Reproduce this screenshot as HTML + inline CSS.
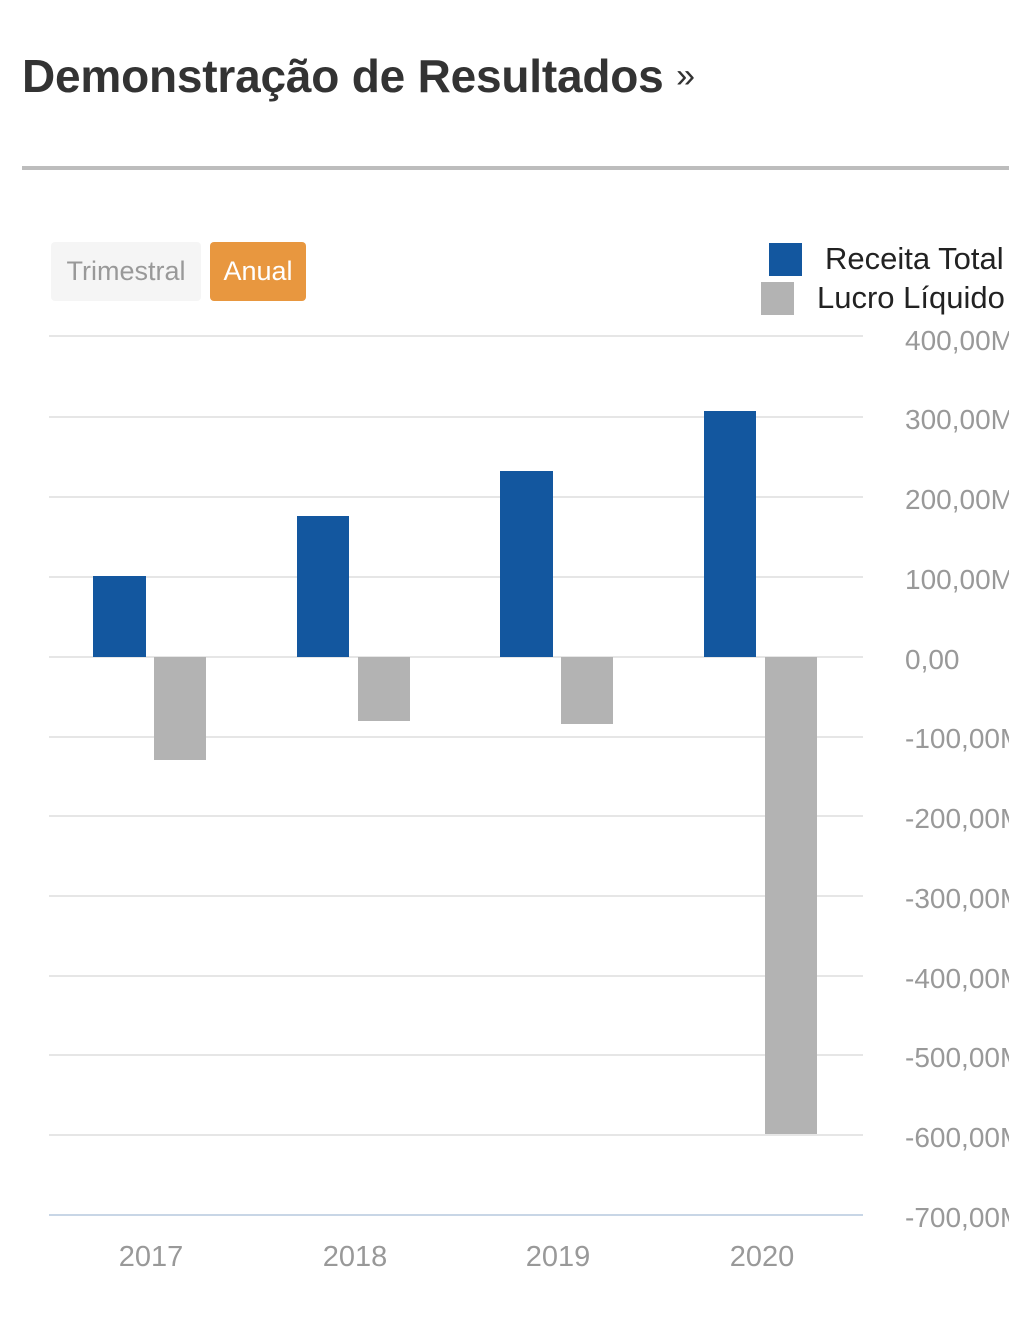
<!DOCTYPE html>
<html><head><meta charset="utf-8"><style>
body{margin:0;width:1009px;height:1329px;background:#fff;overflow:hidden;position:relative;font-family:"Liberation Sans",sans-serif}
.a{position:absolute}
.g{position:absolute;left:49px;width:814px;height:2px;background:#e6e6e6}
.yl{position:absolute;left:905px;font-size:28px;color:#999;white-space:nowrap;line-height:1}
.xl{position:absolute;width:120px;text-align:center;font-size:29px;color:#999;top:1243px;line-height:1}
</style></head><body>
<div class="a" style="left:22px;top:49px;font-size:46px;font-weight:bold;color:#333;white-space:nowrap;letter-spacing:-0.2px">Demonstração de Resultados <span style="font-weight:normal;font-size:34px;position:relative;top:-5px">»</span></div>
<div class="a" style="left:22px;top:166px;width:987px;height:4px;background:#bdbdbd"></div>
<div class="a" style="left:51px;top:242px;width:150px;height:59px;background:#f5f5f5;border-radius:4px;color:#999;font-size:27px;line-height:59px;text-align:center">Trimestral</div>
<div class="a" style="left:210px;top:242px;width:96px;height:59px;background:#e8973f;border-radius:4px;color:#fff;font-size:27px;line-height:59px;text-align:center">Anual</div>
<div class="a" style="left:769px;top:243px;width:33px;height:33px;background:#13579f"></div>
<div class="a" style="left:825px;top:241px;font-size:31px;color:#222;white-space:nowrap">Receita Total</div>
<div class="a" style="left:761px;top:282px;width:33px;height:33px;background:#b3b3b3"></div>
<div class="a" style="left:817px;top:280px;font-size:31px;color:#222;white-space:nowrap">Lucro Líquido</div>

<div class="g" style="top:335px"></div><div class="g" style="top:416px"></div><div class="g" style="top:496px"></div><div class="g" style="top:576px"></div><div class="g" style="top:656px"></div><div class="g" style="top:736px"></div><div class="g" style="top:815px"></div><div class="g" style="top:895px"></div><div class="g" style="top:975px"></div><div class="g" style="top:1054px"></div><div class="g" style="top:1134px"></div>
<div class="g" style="top:1214px;background:#c8d6e6"></div>

<div class="yl" style="top:327px">400,00M</div>
<div class="yl" style="top:406px">300,00M</div>
<div class="yl" style="top:486px">200,00M</div>
<div class="yl" style="top:566px">100,00M</div>
<div class="yl" style="top:646px">0,00</div>
<div class="yl" style="top:725px">-100,00M</div>
<div class="yl" style="top:805px">-200,00M</div>
<div class="yl" style="top:885px">-300,00M</div>
<div class="yl" style="top:965px">-400,00M</div>
<div class="yl" style="top:1044px">-500,00M</div>
<div class="yl" style="top:1124px">-600,00M</div>
<div class="yl" style="top:1204px">-700,00M</div>

<div class="a" style="left:93px;top:576px;width:53px;height:81px;background:#13579f"></div>
<div class="a" style="left:154px;top:657px;width:52px;height:103px;background:#b3b3b3"></div>
<div class="a" style="left:297px;top:516px;width:52px;height:141px;background:#13579f"></div>
<div class="a" style="left:358px;top:657px;width:52px;height:64px;background:#b3b3b3"></div>
<div class="a" style="left:500px;top:471px;width:53px;height:186px;background:#13579f"></div>
<div class="a" style="left:561px;top:657px;width:52px;height:67px;background:#b3b3b3"></div>
<div class="a" style="left:704px;top:411px;width:52px;height:246px;background:#13579f"></div>
<div class="a" style="left:765px;top:657px;width:52px;height:477px;background:#b3b3b3"></div>

<div class="xl" style="left:91px">2017</div>
<div class="xl" style="left:295px">2018</div>
<div class="xl" style="left:498px">2019</div>
<div class="xl" style="left:702px">2020</div>
</body></html>
